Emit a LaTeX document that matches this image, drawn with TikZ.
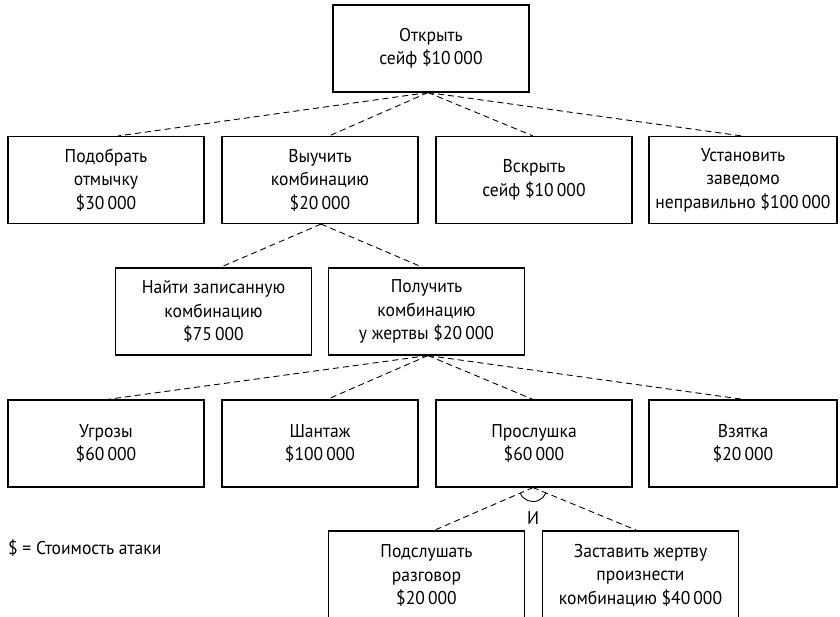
\documentclass[tikz,border=0pt]{standalone}
\usepackage{fontspec}
\setmainfont[FakeStretch=0.95]{PT Sans}
\begin{document}
\begin{tikzpicture}[x=1pt,y=-1pt,
  box/.style={draw, line width=1.1pt, minimum width=196pt, minimum height=87pt,
    align=center, inner sep=0pt, font=\fontsize{18.5}{23.5}\selectfont},
  narrowbox/.style={box, minimum width=188pt},
  link/.style={line width=0.9pt, dash pattern=on 6pt off 4pt},
  lbl/.style={inner sep=0pt, font=\fontsize{18.5}{23.5}\selectfont}]
\useasboundingbox (0,0) rectangle (840,616);

\node[box] (top) at (431,48.5) {Открыть\\сейф \$10\,000};

\node[box] (r1a) at (106,180) {Подобрать\\отмычку\\\$30\,000};
\node[box] (r1b) at (320,180) {Выучить\\комбинацию\\\$20\,000};
\node[box] (r1c) at (534,180) {Вскрыть\\сейф \$10\,000};
\node[narrowbox] (r1d) at (743,180) {Установить\\заведомо\\неправильно \$100\,000};

\node[box] (r2a) at (213.5,311.5) {Найти записанную\\комбинацию\\\$75\,000};
\node[box] (r2b) at (426.5,311.5) {Получить\\комбинацию\\у жертвы \$20\,000};

\node[box] (r3a) at (106,443.5) {Угрозы\\\$60\,000};
\node[box] (r3b) at (320,443.5) {Шантаж\\\$100\,000};
\node[box] (r3c) at (534,443.5) {Прослушка\\\$60\,000};
\node[narrowbox] (r3d) at (743,443.5) {Взятка\\\$20\,000};

\node[box, minimum height=89pt] (r4a) at (426.5,575.5) {Подслушать\\разговор\\\$20\,000};
\node[box, minimum height=89pt] (r4b) at (640.5,575.5) {Заставить жертву\\произнести\\комбинацию \$40\,000};

\node[lbl] (andlbl) at (533,518) {И};
\node[lbl, anchor=west] (legend) at (8,548) {\$ = Стоимость атаки};

\draw[link] ([xshift=-3pt]top.south) -- ([xshift=12pt]r1a.north);
\draw[link] ([xshift=-3pt]top.south) -- ([xshift=9pt]r1b.north);
\draw[link] ([xshift=-3pt]top.south) -- ([xshift=-1pt]r1c.north);
\draw[link] ([xshift=-3pt]top.south) -- ([xshift=-1pt]r1d.north);

\draw[link] ([xshift=1pt]r1b.south) -- ([xshift=6.5pt]r2a.north);
\draw[link] ([xshift=1pt]r1b.south) -- ([xshift=-3.5pt]r2b.north);

\draw[link] ([xshift=1.5pt]r2b.south) -- ([xshift=1pt]r3a.north);
\draw[link] ([xshift=1.5pt]r2b.south) -- ([xshift=7pt]r3b.north);
\draw[link] ([xshift=1.5pt]r2b.south) -- ([xshift=-1pt]r3c.north);
\draw[link] ([xshift=1.5pt]r2b.south) -- ([xshift=1pt]r3d.north);

\draw[link] ([xshift=-1pt]r3c.south) -- ([xshift=7.5pt]r4a.north);
\draw[link] ([xshift=-1pt]r3c.south) -- ([xshift=-3.5pt]r4b.north);
\draw[line width=0.9pt] ([xshift=-1pt]r3c.south) ++(204:14pt) arc[start angle=204, end angle=337, radius=14pt];
\end{tikzpicture}
\end{document}
